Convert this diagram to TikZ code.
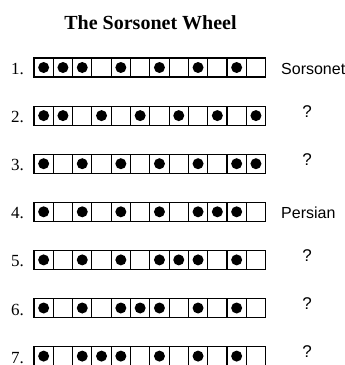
\documentclass[tikz,border=0pt]{standalone}
\usepackage{fontspec}
\setmainfont{Liberation Serif}
\newfontfamily\arialf{Liberation Sans}
\begin{document}
\begin{tikzpicture}[x=1pt,y=-1pt,
  cellbox/.style={draw=black,line width=1.1pt},
  rowlab/.style={anchor=base east,inner sep=0pt,font=\fontsize{17}{17}\selectfont},
  namelab/.style={anchor=base west,inner sep=0pt,font=\arialf\fontsize{16}{16}\selectfont},
  qlab/.style={anchor=base,inner sep=0pt,font=\arialf\fontsize{17}{17}\selectfont}]
\useasboundingbox (0,0) rectangle (345,365);
\node[anchor=base,inner sep=0pt,font=\bfseries\fontsize{20}{20}\selectfont] (title) at (150.5,29.5) {The Sorsonet Wheel};
\foreach \r/\pat in {0/{1,2,3,5,7,9,11}, 1/{1,2,4,6,8,10,12}, 2/{1,3,5,7,9,11,12}, 3/{1,3,5,7,9,10,11}, 4/{1,3,5,7,8,9,11}, 5/{1,3,5,6,7,9,11}, 6/{1,3,4,5,7,9,11}} {
  \pgfmathsetmacro\ty{58+48.1*\r}
  \foreach \c in {1,...,12} \draw[cellbox] ({34+19.3*(\c-1)},\ty) rectangle ++(19.3,19);
  \foreach \c in \pat \fill ({34+19.3*(\c-0.5)},{\ty+9.5}) circle (5.5pt);
  \pgfmathtruncatemacro\n{\r+1}
  \node[rowlab] (lab\n) at (24,{\ty+16.5}) {\n.};
}
\node[namelab] (sorsonet) at (281,74) {Sorsonet};
\node[qlab] (q2) at (307,117) {?};
\node[qlab] (q3) at (307,165) {?};
\node[namelab] (persian) at (281,218.5) {Persian};
\node[qlab] (q5) at (307,261.5) {?};
\node[qlab] (q6) at (307,309.5) {?};
\node[qlab] (q7) at (307,357.5) {?};
\end{tikzpicture}
\end{document}
